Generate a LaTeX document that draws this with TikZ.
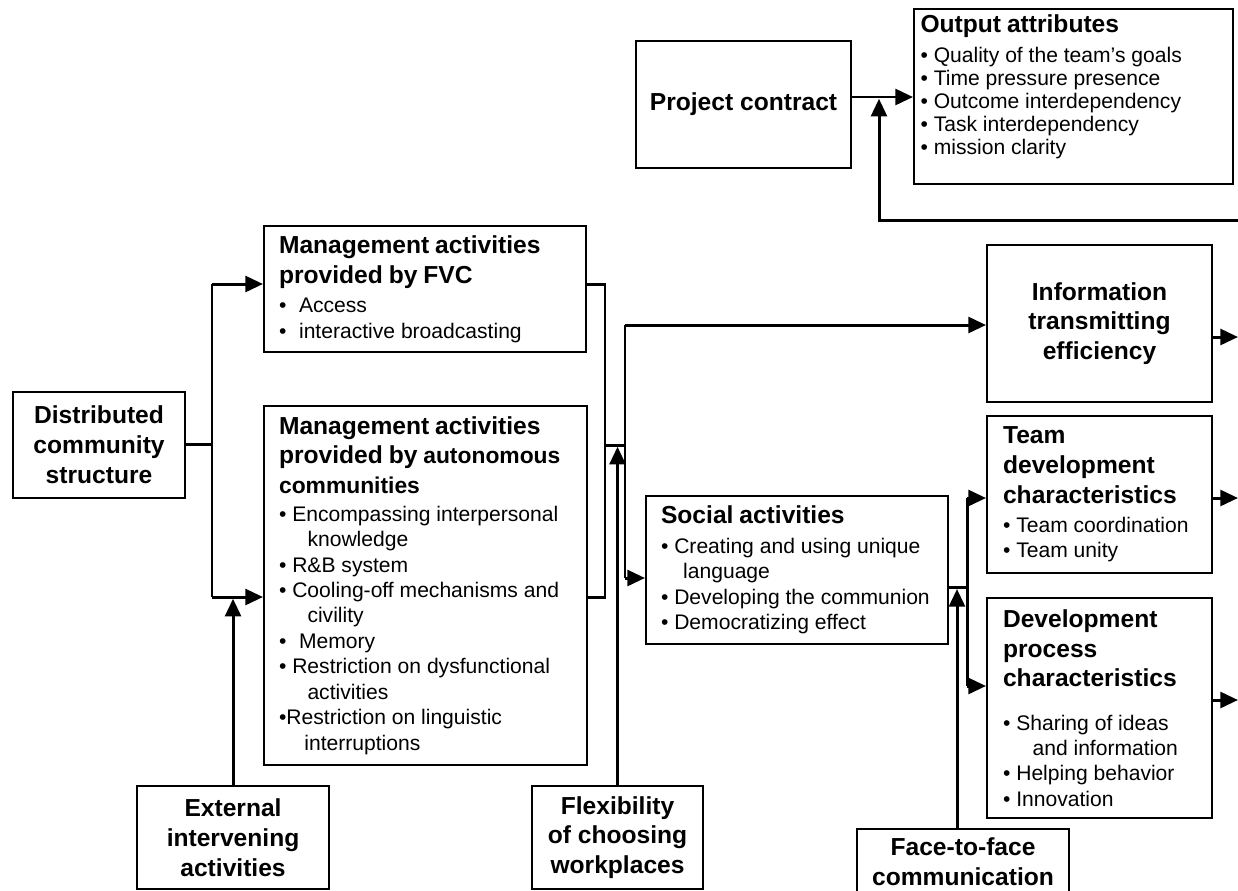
\documentclass[tikz,border=0pt]{standalone}
\usepackage{fontspec}
\setmainfont{Liberation Sans}
\usetikzlibrary{arrows.meta}
\usetikzlibrary{positioning}

\newcommand{\boxtitle}{\fontsize{14}{17}\selectfont\bfseries}
\newcommand{\boxitem}{\fontsize{12}{14.5}\selectfont\mdseries}

\tikzset{
    block/.style={draw, line width=1.2pt, anchor=north west, inner ysep=0pt},
    headbox/.style={block, align=center, font=\boxtitle},
    listbox/.style={block, align=left, inner xsep=0.3cm},
    wire/.style={line width=1.7pt},
    arr/.style={wire, -{Triangle[length=10pt,width=9pt]}}
}

\begin{document}
\begin{tikzpicture}[x=0.02cm, y=-0.02cm]
    \useasboundingbox (0,0) rectangle (1238,890);

    % 1. Boxes on the left side
    \node[headbox, minimum width=3.44cm, minimum height=2.12cm] (dist) at (12,391) {Distributed\\community\\structure};
    \node[listbox, text width=5.84cm, minimum height=2.52cm] (fvc) at (263,225)
        {\boxtitle Management activities\newline provided by FVC\par\vspace{2.5pt}
         \boxitem \textbullet\hspace{0.6em}Access\newline \textbullet\hspace{0.6em}interactive broadcasting\par};
    \node[listbox, text width=5.86cm, minimum height=7.18cm] (auto) at (263,405)
        {\boxtitle Management activities\newline provided by {\fontsize{13}{17}\selectfont autonomous}\newline
         {\fontsize{13}{17}\selectfont communities}\par\vspace{1pt}
         \boxitem \textbullet\ Encompassing interpersonal\newline
         \hspace*{1.35em}knowledge\newline
         \textbullet\ R\&B system\newline
         \textbullet\ Cooling-off mechanisms and\newline
         \hspace*{1.35em}civility\newline
         \textbullet\hspace{0.6em}Memory\newline
         \textbullet\ Restriction on dysfunctional\newline
         \hspace*{1.35em}activities\newline
         \textbullet Restriction on linguistic\newline
         \hspace*{1.2em}interruptions\par};
    \node[headbox, minimum width=3.84cm, minimum height=2.06cm] (ext) at (136,785) {External\\intervening\\activities};
    \node[headbox, minimum width=3.42cm, minimum height=2.06cm] (flex) at (531,785) {Flexibility\\of choosing\\workplaces};

    % 2. Boxes at the top
    \node[headbox, minimum width=4.3cm, minimum height=2.54cm] (proj) at (635,40) {Project contract};
    \node[listbox, inner xsep=0.13cm, text width=6.12cm, minimum height=3.5cm] (out) at (913,8)
        {\boxtitle Output attributes\par\vspace{4pt}
         \fontsize{12}{13}\selectfont\mdseries
         \textbullet\ Quality of the team’s goals\newline
         \textbullet\ Time pressure presence\newline
         \textbullet\ Outcome interdependency\newline
         \textbullet\ Task interdependency\newline
         \textbullet\ mission clarity\par\vspace*{11pt}\hrule height 0pt width 0pt};

    % 3. Boxes in the middle and on the right
    \node[listbox, text width=5.44cm, minimum height=2.96cm] (social) at (645,495)
        {\boxtitle Social activities\par\vspace{2.5pt}
         \boxitem \textbullet\ Creating and using unique\newline
         \hspace*{1.05em}language\newline
         \textbullet\ Developing the communion\newline
         \textbullet\ Democratizing effect\par};
    \node[headbox, minimum width=4.5cm, minimum height=3.14cm] (info) at (986,244) {Information\\transmitting\\efficiency};
    \node[listbox, inner xsep=0.32cm, text width=3.86cm, minimum height=3.14cm] (team) at (986,415)
        {\boxtitle Team\newline development\newline characteristics\par\vspace{2pt}
         \boxitem \textbullet\ Team coordination\newline
         \textbullet\ Team unity\par};
    \node[listbox, inner xsep=0.32cm, text width=3.86cm, minimum height=4.4cm] (dev) at (986,597)
        {\boxtitle Development\newline process\newline characteristics\par\vspace{10pt}
         \boxitem \textbullet\ Sharing of ideas\newline
         \hspace*{1.4em}and information\newline
         \textbullet\ Helping behavior\newline
         \textbullet\ Innovation\par};
    \node[headbox, minimum width=4.24cm, minimum height=1.32cm] (f2f) at (856,828) {Face-to-face\\communication};

    % 4. Bend points and loose ends of the connectors
    \coordinate (lbT) at (212,284);
    \coordinate (lbM) at (212,444);
    \coordinate (lbB) at (212,597);
    \coordinate (rbT) at (605,284);
    \coordinate (rbM) at (605,445);
    \coordinate (rbB) at (605,597);
    \coordinate (obT) at (625,325);
    \coordinate (obM) at (625,445);
    \coordinate (obB) at (625,578);
    \coordinate (sbT) at (967,498);
    \coordinate (sbM) at (967,587);
    \coordinate (sbB) at (967,686);
    \coordinate (ffup) at (957,589);
    \coordinate (pc) at (879,97);
    \coordinate (fbR) at (1238,220);
    \coordinate (fbL) at (879,220);
    \coordinate (infoR) at (1238,337);
    \coordinate (teamR) at (1238,498);
    \coordinate (devR) at (1238,700);

    % 5. Left bus
    \draw[wire] (dist.east |- lbM) -- (lbM);
    \draw[wire] (lbT) -- (lbB);
    \draw[arr] (lbT) -- (lbT -| fvc.west);
    \draw[arr] (lbB) -- (lbB -| auto.west);
    \draw[arr] (ext.north) -- ([yshift=-1pt]ext.north |- lbB);

    % 6. Bus between management and outcome boxes
    \draw[wire] (rbT -| fvc.east) -- (rbT) -- (rbB) -- (rbB -| auto.east);
    \draw[wire] (rbM) -- (obM);
    \draw[wire] (obT) -- (obB);
    \draw[arr] (obT) -- (obT -| info.west);
    \draw[arr] (obB) -- (obB -| social.west);
    \draw[arr] (flex.north) -- ([yshift=-1pt]flex.north |- rbM);

    % 7. Bus after the social activities
    \draw[wire] (sbM -| social.east) -- (sbM);
    \draw[wire] (sbT) -- (sbB);
    \draw[arr] (sbT) -- (sbT -| team.west);
    \draw[arr] (sbB) -- (sbB -| dev.west);
    \draw[arr] (ffup |- f2f.north) -- (ffup);

    % 8. Outputs on the right edge
    \draw[arr] (infoR -| info.east) -- (infoR);
    \draw[arr] (teamR -| team.east) -- (teamR);
    \draw[arr] (devR -| dev.east) -- (devR);

    % 9. Project contract and feedback loop
    \draw[arr] (proj.east |- pc) -- (out.west |- pc);
    \draw[arr] (fbR) -- (fbL) -- ([yshift=-1pt]pc);
\end{tikzpicture}
\end{document}
